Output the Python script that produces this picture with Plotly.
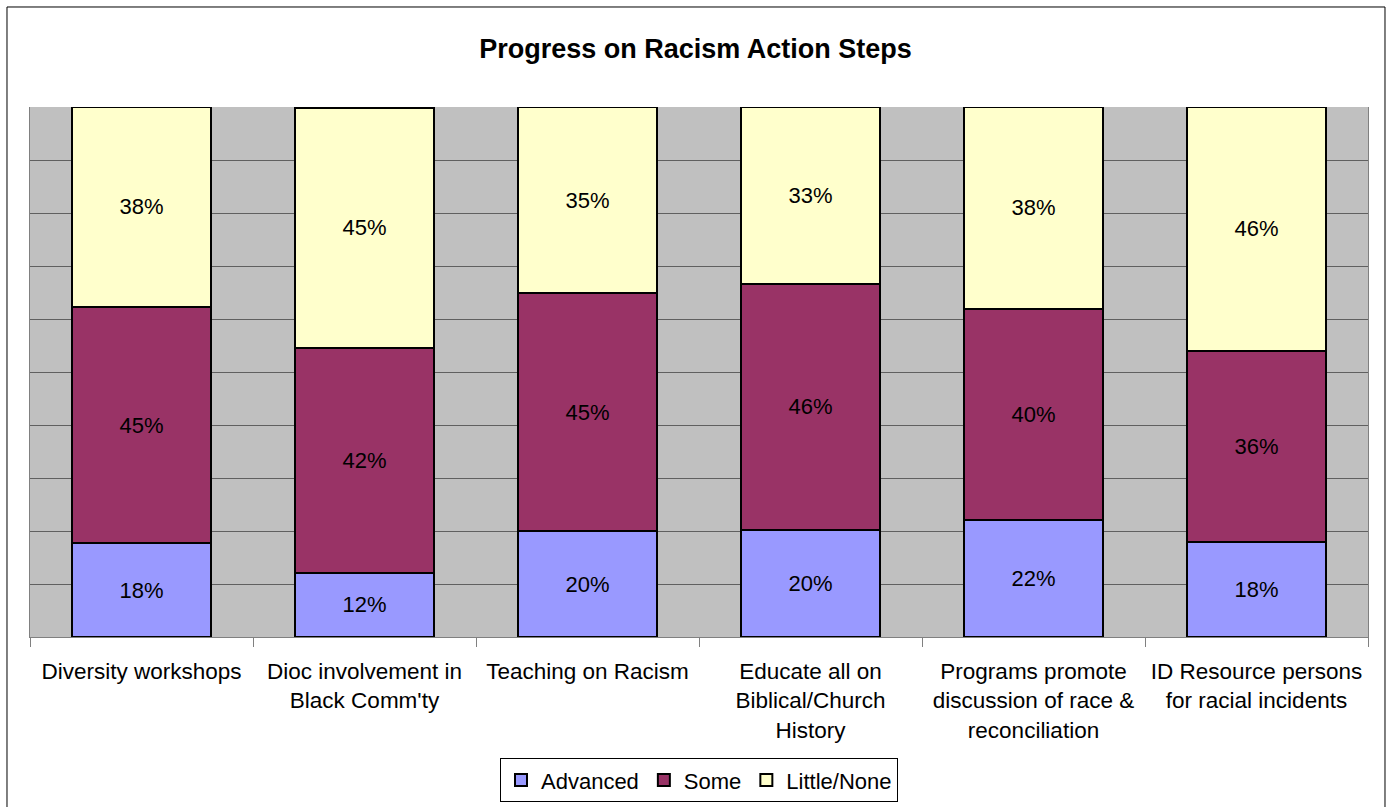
import plotly.graph_objects as go

categories = [
    "Diversity workshops",
    "Dioc involvement in<br>Black Comm'ty",
    "Teaching on Racism",
    "Educate all on<br>Biblical/Church<br>History",
    "Programs promote<br>discussion of race &<br>reconciliation",
    "ID Resource persons<br>for racial incidents",
]
advanced = [0.177, 0.121, 0.200, 0.202, 0.221, 0.179]
some = [0.446, 0.424, 0.449, 0.464, 0.398, 0.361]
little_none = [0.377, 0.454, 0.351, 0.334, 0.381, 0.460]

series = [
    ("Advanced", advanced, "#9999FF"),
    ("Some", some, "#993366"),
    ("Little/None", little_none, "#FFFFCC"),
]

fig = go.Figure()
for name, vals, color in series:
    fig.add_trace(go.Bar(
        name=name,
        x=categories,
        y=vals,
        marker=dict(color=color, line=dict(color="black", width=2)),
        texttemplate="%{y:.0%}",
        textposition="inside",
        insidetextanchor="middle",
        textangle=0,
        textfont=dict(color="black", size=22),
    ))

fig.update_layout(
    width=1391,
    height=807,
    barmode="stack",
    bargap=0.377,
    paper_bgcolor="white",
    plot_bgcolor="#C0C0C0",
    font=dict(family="Liberation Sans, Arial, sans-serif", color="black", size=22),
    margin=dict(l=30, r=23, t=107, b=170),
    title=dict(
        text="<b>Progress on Racism Action Steps</b>",
        x=0.5, xanchor="center", y=0.94, yanchor="middle",
        font=dict(size=27),
    ),
    xaxis=dict(
        tickson="boundaries",
        ticks="outside",
        ticklen=9,
        tickcolor="#808080",
        showline=True,
        linecolor="#808080",
        showgrid=False,
        automargin=False,
        ticklabelstandoff=14,
        tickfont=dict(size=22.5),
    ),
    yaxis=dict(
        range=[0, 1],
        dtick=0.1,
        showticklabels=False,
        showgrid=True,
        gridcolor="#606060",
        gridwidth=1,
        showline=True,
        linecolor="#808080",
        mirror=True,
        zeroline=False,
        automargin=False,
    ),
    # placed against the page, not the plot, so it doesn't squeeze the bars
    legend=dict(
        orientation="h",
        x=0.5, xanchor="center",
        yref="container",
        y=0.006, yanchor="bottom",
        bordercolor="black",
        borderwidth=1,
        font=dict(size=22),
        itemwidth=30,
        traceorder="normal",
    ),
    shapes=[dict(
        type="rect", xref="paper", yref="paper",
        x0=-0.0172, x1=1.0127, y0=-0.4, y1=1.1887,
        line=dict(color="black", width=1),
    )],
)

# drop the page's default body margin so the figure sits at 0,0
fig.write_html(
    "out.html",
    config={"displayModeBar": False},
    post_script="document.body.style.margin='0';",
)
